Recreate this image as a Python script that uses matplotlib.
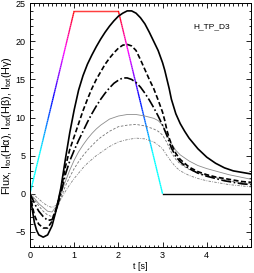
import numpy as np
import matplotlib
matplotlib.use("Agg")
import matplotlib.pyplot as plt
from matplotlib.collections import LineCollection
from matplotlib.colors import LinearSegmentedColormap
from matplotlib.ticker import MultipleLocator

plt.rcParams['font.family'] = ['Liberation Sans', 'DejaVu Sans']
plt.rcParams['mathtext.fontset'] = 'custom'
plt.rcParams['mathtext.rm'] = 'Liberation Sans'

# flux (trapezoid)
flux_t = [0, 1, 2, 3, 5]
flux_v = [0, 24, 24, 0, 0]

# thick curves: I_tot(Ha), I_tot(Hb), I_tot(Hg)
t_thick = [0, 0.05, 0.1, 0.15, 0.2, 0.3, 0.4, 0.5, 0.6, 0.7, 0.8, 0.9, 1.0, 1.1, 1.2, 1.3, 1.4,
           1.5, 1.6, 1.7, 1.8, 1.9, 2.0, 2.1, 2.2, 2.3, 2.4, 2.5, 2.6, 2.7, 2.8, 2.9, 3.0, 3.05,
           3.1, 3.15, 3.2, 3.3, 3.4, 3.5, 3.6, 3.8, 4.0, 4.2, 4.4, 4.6, 4.8, 5.0]
ha = [0, -2.0, -3.8, -4.8, -5.4, -5.7, -5.4, -4.2, -2.0, 0.8, 4.5, 8.0, 11.0, 13.6, 15.5, 17.0, 18.2,
      19.3, 20.3, 21.2, 22.0, 22.7, 23.3, 23.7, 24.0, 24.0, 23.7, 23.1, 22.3, 21.2, 20.0, 18.8, 17.2, 16.2,
      15.0, 13.8, 12.4, 10.5, 9.2, 8.2, 7.3, 5.9, 4.8, 4.0, 3.4, 3.0, 2.8, 2.6]
hb = [0, -1.5, -2.8, -3.5, -4.0, -4.5, -4.5, -3.6, -1.8, 0.4, 3.5, 5.8, 7.5, 9.2, 10.9, 12.4, 13.8,
      15.0, 16.0, 17.0, 17.8, 18.5, 19.1, 19.5, 19.6, 19.4, 18.8, 17.6, 16.3, 15.0, 13.8, 12.3, 10.7, 9.6,
      8.3, 7.3, 6.5, 5.3, 4.5, 4.0, 3.5, 2.9, 2.5, 2.2, 2.0, 1.8, 1.6, 1.5]
hg = [0, -0.6, -1.2, -1.8, -2.3, -3.0, -3.5, -3.4, -2.0, 0.0, 2.5, 4.3, 5.7, 7.0, 8.2, 9.4, 10.5,
      11.5, 12.4, 13.2, 13.9, 14.5, 14.9, 15.2, 15.2, 15.0, 14.6, 14.0, 13.2, 12.3, 11.3, 10.2, 9.0, 8.3,
      7.6, 6.8, 6.0, 4.9, 4.2, 3.7, 3.3, 2.7, 2.3, 2.0, 1.7, 1.5, 1.3, 1.2]

# thin grey curves
t_thin = [0, 0.1, 0.2, 0.3, 0.4, 0.5, 0.6, 0.7, 0.8, 0.9, 1.0, 1.1, 1.2, 1.3, 1.4, 1.5, 1.6, 1.7,
          1.8, 1.9, 2.0, 2.2, 2.4, 2.6, 2.8, 2.9, 3.0, 3.1, 3.2, 3.3, 3.4, 3.6, 3.8, 4.0, 4.5, 5.0]
ga = [0, -0.6, -1.3, -1.8, -2.3, -2.4, -1.6, 0.0, 1.6, 3.1, 4.4, 5.5, 6.4, 7.2, 7.9, 8.5, 9.0, 9.4,
      9.8, 10.0, 10.2, 10.4, 10.4, 10.2, 9.9, 9.6, 9.0, 7.8, 6.6, 5.7, 5.1, 4.3, 3.7, 3.3, 2.5, 1.9]
gb = [0, -0.8, -1.6, -2.3, -2.8, -3.0, -2.2, -0.6, 1.0, 2.2, 3.3, 4.2, 5.0, 5.7, 6.3, 6.9, 7.4, 7.8,
      8.2, 8.5, 8.8, 9.0, 9.1, 8.9, 8.5, 8.2, 7.7, 6.7, 5.4, 4.5, 3.9, 3.2, 2.7, 2.4, 1.7, 1.3]
gc = [0, -0.2, -0.7, -1.2, -1.6, -1.8, -1.5, -0.7, 0.3, 1.2, 2.0, 2.7, 3.4, 4.0, 4.5, 5.0, 5.4, 5.8,
      6.2, 6.5, 6.8, 7.1, 7.3, 7.2, 6.8, 6.4, 5.9, 5.0, 4.2, 3.5, 3.0, 2.4, 2.0, 1.7, 1.2, 0.9]

fig = plt.figure(figsize=(2.54, 2.73), dpi=100)
ax = fig.add_axes([0.118, 0.095, 0.870, 0.893])

# flux line coloured by its value (cyan -> blue -> magenta -> red)
cmap = LinearSegmentedColormap.from_list(
    'flux', [(0, 'cyan'), (0.22, 'cyan'), (0.52, 'blue'), (0.78, 'magenta'), (1, 'red')])
tt = np.linspace(0, 3, 301)
vv = np.interp(tt, flux_t, flux_v)
pts = np.column_stack([tt, vv]).reshape(-1, 1, 2)
segs = np.concatenate([pts[:-1], pts[1:]], axis=1)
lc = LineCollection(segs, colors=cmap((vv[:-1] + vv[1:]) / 2 / 24.0), linewidth=1.0)
ax.add_collection(lc)
ax.plot(flux_t[3:], flux_v[3:], color='black', lw=1.0)

ax.plot(t_thin, ga, color='0.55', lw=0.6)
ax.plot(t_thin, gb, color='0.45', lw=0.6, ls=(0, (3, 2)))
ax.plot(t_thin, gc, color='0.5', lw=0.6, ls=(0, (3, 1.5, 1, 1.5)))
ax.plot(t_thick, ha, color='black', lw=1.2)
ax.plot(t_thick, hb, color='black', lw=1.2, ls=(0, (3, 1.5)))
ax.plot(t_thick, hg, color='black', lw=1.2, ls=(0, (6, 1.5, 1, 1.5)))

ax.set_xlim(0, 5)
ax.set_ylim(-7, 25)
ax.xaxis.set_major_locator(MultipleLocator(1))
ax.xaxis.set_minor_locator(MultipleLocator(0.1))
ax.yaxis.set_major_locator(MultipleLocator(5))
ax.yaxis.set_minor_locator(MultipleLocator(1))
ax.tick_params(which='both', direction='in', top=True, right=True, labelsize=6.5, width=0.6)
ax.tick_params(which='major', length=3.6, pad=3)
ax.tick_params(which='minor', length=1.8)
ax.set_xticks([0, 1, 2, 3, 4])
for s in ax.spines.values():
    s.set_linewidth(0.7)

ax.text(4.11, 21.9, "H_TP_D3", fontsize=6, ha='center', va='center')
ax.set_xlabel("t [s]", fontsize=6.5, labelpad=1)
ax.set_ylabel(r"Flux, I$_{\rm tot}$(Hα), I$_{\rm tot}$(Hβ), I$_{\rm tot}$(Hγ)",
              fontsize=7.8, labelpad=1)

fig.savefig("out.png", dpi=100)
